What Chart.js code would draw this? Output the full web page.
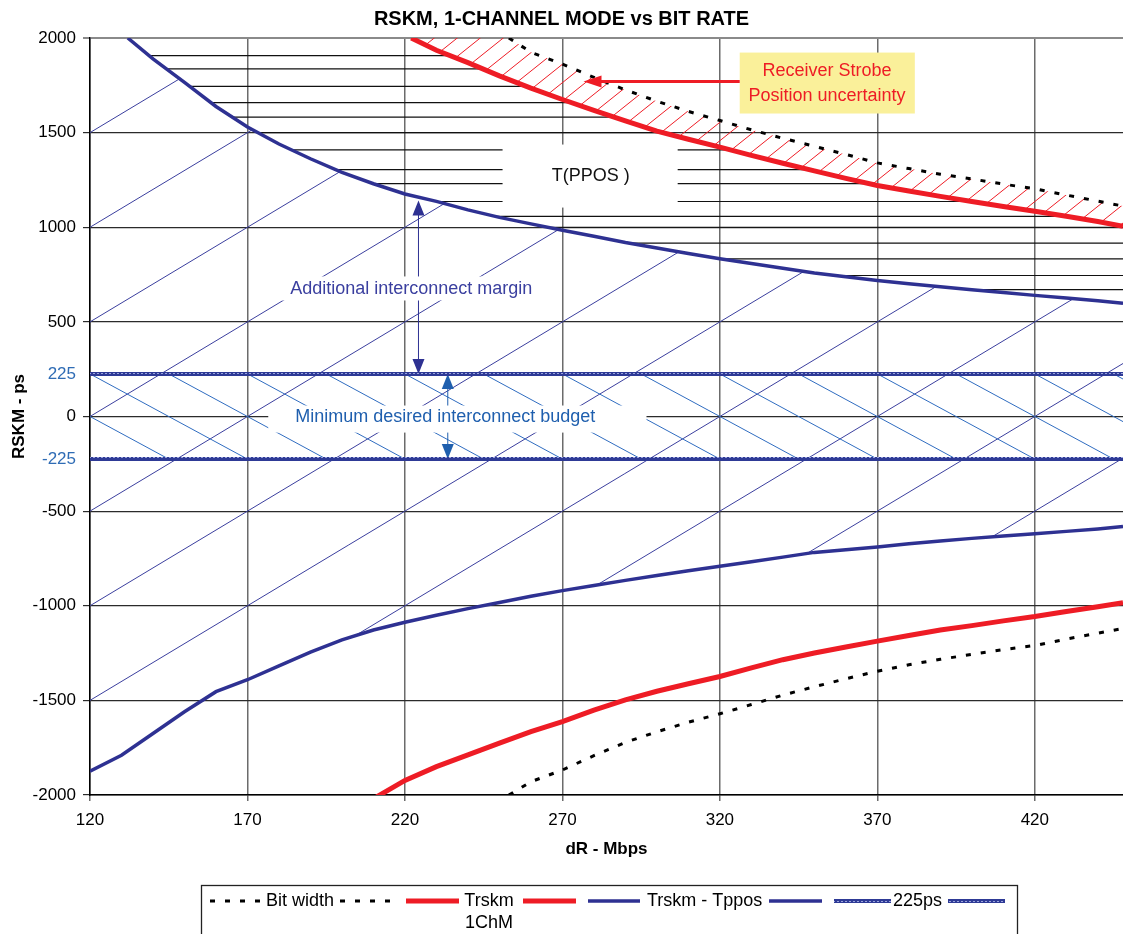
<!DOCTYPE html>
<html>
<head>
<meta charset="utf-8">
<script src="https://cdn.jsdelivr.net/npm/chart.js@4.4.1/dist/chart.umd.min.js"></script>
<style>
  html, body { margin: 0; padding: 0; background: #fff; }
  #wrap { width: 1123px; height: 934px; }
</style>
</head>
<body>
<div id="wrap"><canvas id="rskm-chart" width="1123" height="934"></canvas></div>
<script>
// values (ps vs Mbps)
const bitRates = [253, 260, 270, 280, 290, 300, 310, 320, 330, 340, 350, 360, 370, 380, 390, 400, 410, 420, 430, 440, 448];
const bitWidthHigh = [2000, 1925, 1862, 1792, 1726, 1666, 1612, 1564, 1515, 1470, 1428, 1385, 1340, 1310, 1280, 1255, 1228, 1203, 1170, 1138, 1112];
const bitWidthLow = [-2000, -1930, -1868, -1792, -1722, -1666, -1615, -1571, -1522, -1472, -1428, -1386, -1346, -1312, -1283, -1257, -1232, -1210, -1176, -1145, -1120];

const trskmHighRates = [222, 230, 240, 250, 260, 270, 280, 290, 300, 310, 320, 330, 340, 350, 360, 370, 380, 390, 400, 410, 420, 430, 440, 448];
const trskmHigh = [2000, 1935, 1870, 1800, 1735, 1675, 1618, 1562, 1508, 1465, 1423, 1380, 1338, 1298, 1258, 1221, 1192, 1163, 1136, 1110, 1085, 1058, 1030, 1005];
const trskmLowRates = [211, 220, 230, 240, 250, 260, 270, 280, 290, 300, 310, 320, 330, 340, 350, 360, 370, 380, 390, 400, 410, 420, 430, 440, 448];
const trskmLow = [-2010, -1923, -1850, -1788, -1726, -1665, -1612, -1552, -1497, -1452, -1412, -1374, -1328, -1285, -1250, -1218, -1187, -1157, -1128, -1105, -1080, -1057, -1030, -1005, -984];

const tpposHighRates = [132, 140, 150, 160, 170, 180, 190, 200, 210, 220, 230, 240, 250, 260, 270, 280, 290, 300, 310, 320, 330, 340, 350, 360, 370, 380, 390, 400, 410, 420, 430, 440, 448];
const tpposHigh = [2000, 1890, 1765, 1638, 1530, 1440, 1362, 1290, 1230, 1176, 1137, 1092, 1052, 1018, 984, 952, 919, 890, 861, 834, 808, 783, 758, 738, 719, 702, 686, 670, 655, 640, 626, 612, 599];
const tpposLowRates = [120, 130, 140, 150, 160, 170, 180, 190, 200, 210, 220, 230, 240, 250, 260, 270, 280, 290, 300, 310, 320, 330, 340, 350, 360, 370, 380, 390, 400, 410, 420, 430, 440, 448];
const tpposLow = [-1874, -1790, -1675, -1560, -1454, -1391, -1318, -1245, -1180, -1128, -1087, -1050, -1015, -983, -950, -920, -893, -866, -840, -815, -791, -767, -743, -718, -704, -690, -673, -658, -644, -631, -620, -607, -594, -581];

const budgetRates = [120, 448];
const budgetHigh = [225, 225];
const budgetLow = [-225, -225];

const xTicks = [120, 170, 220, 270, 320, 370, 420];
const yTicks = [2000, 1500, 1000, 500, 225, 0, -225, -500, -1000, -1500, -2000];

// horizontal hatch levels of the T(PPOS) zone
const hatchLevels = [1907, 1837, 1744, 1658, 1582, 1500, 1409, 1305, 1230, 1136, 1057, 1000, 916, 833, 745, 670];

// annotation boxes, in data units
const notes = {
  margin: { x0: 181, x1: 264.6, y0: 613, y1: 740, tx: 222, ty: 676, text: 'Additional interconnect margin', color: '#3a3f9f' },
  tppos: { x0: 251, x1: 306.6, y0: 1104, y1: 1437, tx: 279, ty: 1273, text: 'T(PPOS )', color: '#111' },
  budget: { x0: 176.6, x1: 296.7, y0: -85, y1: 58, tx: 232.8, ty: -5, text: 'Minimum desired interconnect budget', color: '#1f5fae' },
  strobe: { x0: 326.3, x1: 381.9, y0: 1601, y1: 1923, tx: 354, text: ['Receiver Strobe', 'Position uncertainty'], ty: [1823, 1696], color: '#ee1c25' }
};

const FONT = '"Liberation Sans", Arial, sans-serif';
const NAVY = '#2e3192';
const RED = '#ee1c25';

function series(xs, ys) {
  return xs.map((x, i) => ({ x: x, y: ys[i] }));
}

// chain-like pattern used by the 225ps lines
function makeChainPattern() {
  const c = document.createElement('canvas');
  c.width = 4; c.height = 4;
  const g = c.getContext('2d');
  g.fillStyle = '#2e3a96';
  g.fillRect(0, 0, 4, 4);
  g.fillStyle = '#9aa3dc';
  g.fillRect(1, 1, 2, 1);
  return document.getElementById('rskm-chart').getContext('2d').createPattern(c, 'repeat');
}
const chainPattern = makeChainPattern();

function arrowHead(ctx, tx, ty, dx, dy, len, half) {
  const n = Math.hypot(dx, dy);
  const ux = dx / n, uy = dy / n;
  ctx.beginPath();
  ctx.moveTo(tx, ty);
  ctx.lineTo(tx - ux * len - uy * half, ty - uy * len + ux * half);
  ctx.lineTo(tx - ux * len + uy * half, ty - uy * len - ux * half);
  ctx.closePath();
  ctx.fill();
}

const hatchPlugin = {
  id: 'hatch',
  beforeDatasetsDraw(chart) {
    const ctx = chart.ctx, area = chart.chartArea;
    const X = v => chart.scales.x.getPixelForValue(v);
    const Y = v => chart.scales.y.getPixelForValue(v);
    const trace = list => list.forEach((p, i) => i ? ctx.lineTo(X(p[0]), Y(p[1])) : ctx.moveTo(X(p[0]), Y(p[1])));
    const zip = (xs, ys) => xs.map((x, i) => [x, ys[i]]);

    const blueHi = zip(tpposHighRates, tpposHigh);
    const blueLo = zip(tpposLowRates, tpposLow);
    const redHi = zip(trskmHighRates, trskmHigh);
    const dotHi = zip(bitRates, bitWidthHigh);

    ctx.save();
    ctx.beginPath();
    ctx.rect(area.left, area.top, area.right - area.left, area.bottom - area.top);
    ctx.clip();

    // horizontal lines between Trskm - Tppos and Trskm
    ctx.save();
    ctx.beginPath();
    trace(blueHi.concat(redHi.slice().reverse()));
    ctx.closePath();
    ctx.clip();
    ctx.strokeStyle = '#111';
    ctx.lineWidth = 1.2;
    hatchLevels.forEach(v => {
      ctx.beginPath();
      ctx.moveTo(area.left, Y(v));
      ctx.lineTo(area.right, Y(v));
      ctx.stroke();
    });
    ctx.restore();

    // red strokes between Trskm and bit width
    ctx.save();
    ctx.beginPath();
    trace(redHi.concat(dotHi.slice().reverse()));
    ctx.closePath();
    ctx.clip();
    ctx.strokeStyle = RED;
    ctx.lineWidth = 1;
    for (let x0 = area.left - 1200; x0 < area.right + 50; x0 += 23) {
      ctx.beginPath();
      ctx.moveTo(x0, area.bottom);
      ctx.lineTo(x0 + 1500, area.bottom - 1200);
      ctx.stroke();
    }
    ctx.restore();

    // rising diagonals between the two Trskm - Tppos curves
    ctx.save();
    ctx.beginPath();
    trace([[120, 2000]].concat(blueHi, blueLo.slice().reverse()));
    ctx.closePath();
    ctx.clip();
    ctx.strokeStyle = '#3b3f9e';
    ctx.lineWidth = 1;
    for (let k = -8; k <= 8; k++) {
      ctx.beginPath();
      ctx.moveTo(X(120), Y(500 * k));
      ctx.lineTo(X(448), Y(500 * k + 3280));
      ctx.stroke();
    }
    ctx.restore();

    // falling diagonals inside the +/-225 budget band
    ctx.save();
    ctx.beginPath();
    ctx.rect(X(120), Y(225), X(448) - X(120), Y(-225) - Y(225));
    ctx.clip();
    ctx.strokeStyle = '#2f6cc0';
    ctx.lineWidth = 1;
    for (let k = -2; k <= 14; k++) {
      ctx.beginPath();
      ctx.moveTo(X(120 + 25 * k), Y(225));
      ctx.lineTo(X(170 + 25 * k), Y(-225));
      ctx.stroke();
    }
    ctx.restore();

    // double arrows (go under the text boxes)
    ctx.lineWidth = 1;
    ctx.strokeStyle = ctx.fillStyle = NAVY;
    let ax = X(224.3);
    ctx.beginPath(); ctx.moveTo(ax, Y(1141) + 10); ctx.lineTo(ax, Y(225) - 10); ctx.stroke();
    arrowHead(ctx, ax, Y(1141), 0, -1, 15, 6);
    arrowHead(ctx, ax, Y(225), 0, 1, 15, 6);
    ctx.strokeStyle = ctx.fillStyle = '#1f5fae';
    ax = X(233.6);
    ctx.beginPath(); ctx.moveTo(ax, Y(225) + 10); ctx.lineTo(ax, Y(-225) - 10); ctx.stroke();
    arrowHead(ctx, ax, Y(225), 0, -1, 15, 6);
    arrowHead(ctx, ax, Y(-225), 0, 1, 15, 6);

    // label boxes
    ctx.font = '18px ' + FONT;
    ctx.textAlign = 'center';
    ctx.textBaseline = 'middle';
    ['margin', 'tppos', 'budget'].forEach(key => {
      const n = notes[key];
      ctx.fillStyle = '#fff';
      ctx.fillRect(X(n.x0), Y(n.y1), X(n.x1) - X(n.x0), Y(n.y0) - Y(n.y1));
      ctx.fillStyle = n.color;
      ctx.fillText(n.text, X(n.tx), Y(n.ty));
    });
    ctx.restore();
  },
  afterDatasetsDraw(chart) {
    const ctx = chart.ctx;
    const X = v => chart.scales.x.getPixelForValue(v);
    const Y = v => chart.scales.y.getPixelForValue(v);
    const n = notes.strobe;
    ctx.save();
    ctx.fillStyle = '#faf09a';
    ctx.fillRect(X(n.x0), Y(n.y1), X(n.x1) - X(n.x0), Y(n.y0) - Y(n.y1));
    ctx.font = '18px ' + FONT;
    ctx.textAlign = 'center';
    ctx.textBaseline = 'middle';
    ctx.fillStyle = n.color;
    n.text.forEach((t, i) => ctx.fillText(t, X(n.tx), Y(n.ty[i])));
    // red arrow pointing into the hatched zone
    const ay = Y(1770);
    ctx.strokeStyle = ctx.fillStyle = RED;
    ctx.lineWidth = 3;
    ctx.beginPath(); ctx.moveTo(X(n.x0), ay); ctx.lineTo(X(276.7) + 14, ay); ctx.stroke();
    arrowHead(ctx, X(276.7), ay, -1, 0, 18, 6);
    ctx.restore();
  },
  afterDraw(chart) {
    // Excel-style legend box at the bottom
    const ctx = chart.ctx;
    ctx.save();
    ctx.strokeStyle = '#222';
    ctx.lineWidth = 1.3;
    ctx.strokeRect(201.5, 885.5, 816, 70);
    const y = 901;
    const seg = (x0, x1, style, width, dash) => {
      ctx.beginPath();
      ctx.setLineDash(dash || []);
      ctx.strokeStyle = style;
      ctx.lineWidth = width;
      ctx.moveTo(x0, y); ctx.lineTo(x1, y); ctx.stroke();
      ctx.setLineDash([]);
    };
    seg(210, 262, '#000', 3, [5, 10]);
    seg(340, 395, '#000', 3, [5, 10]);
    seg(406, 459, RED, 5);
    seg(523, 576, RED, 5);
    seg(588, 640, NAVY, 3.5);
    seg(769, 822, NAVY, 3.5);
    seg(834, 891, chainPattern, 4);
    seg(948, 1005, chainPattern, 4);
    ctx.font = '18px ' + FONT;
    ctx.fillStyle = '#000';
    ctx.textBaseline = 'middle';
    ctx.textAlign = 'left';
    ctx.fillText('Bit width', 266, y);
    ctx.fillText('Trskm - Tppos', 647, y);
    ctx.fillText('225ps', 893, y);
    ctx.textAlign = 'center';
    ctx.fillText('Trskm', 489, y);
    ctx.fillText('1ChM', 489, 923);
    ctx.restore();
  }
};

const lineBase = { showLine: true, pointRadius: 0, tension: 0, fill: false, clip: 0 };

new Chart(document.getElementById('rskm-chart'), {
  type: 'scatter',
  data: {
    datasets: [
      Object.assign({ label: 'Bit width', data: series(bitRates, bitWidthHigh), borderColor: '#000', borderWidth: 3, borderDash: [5, 10] }, lineBase),
      Object.assign({ label: 'Bit width low', data: series(bitRates, bitWidthLow), borderColor: '#000', borderWidth: 3, borderDash: [5, 10] }, lineBase),
      Object.assign({ label: 'Trskm 1ChM', data: series(trskmHighRates, trskmHigh), borderColor: RED, borderWidth: 5 }, lineBase),
      Object.assign({ label: 'Trskm 1ChM low', data: series(trskmLowRates, trskmLow), borderColor: RED, borderWidth: 5 }, lineBase),
      Object.assign({ label: 'Trskm - Tppos', data: series(tpposHighRates, tpposHigh), borderColor: NAVY, borderWidth: 3.5 }, lineBase),
      Object.assign({ label: 'Trskm - Tppos low', data: series(tpposLowRates, tpposLow), borderColor: NAVY, borderWidth: 3.5 }, lineBase),
      Object.assign({ label: '225ps', data: series(budgetRates, budgetHigh), borderColor: chainPattern, borderWidth: 4 }, lineBase),
      Object.assign({ label: '-225ps', data: series(budgetRates, budgetLow), borderColor: chainPattern, borderWidth: 4 }, lineBase)
    ]
  },
  options: {
    responsive: false,
    animation: false,
    devicePixelRatio: 1,
    layout: { padding: { left: 0, right: 0, top: 0, bottom: 69 } },
    plugins: {
      legend: { display: false },
      tooltip: { enabled: false },
      title: {
        display: true,
        text: 'RSKM, 1-CHANNEL MODE vs BIT RATE',
        color: '#000',
        font: { family: FONT, size: 20, weight: 'bold' },
        padding: { top: 7, bottom: 7 }
      }
    },
    scales: {
      x: {
        type: 'linear',
        min: 120,
        max: 448,
        afterBuildTicks: scale => { scale.ticks = xTicks.map(v => ({ value: v })); },
        afterFit: scale => { scale.height = 70; },
        ticks: { color: '#000', font: { family: FONT, size: 17 }, padding: 9, callback: v => String(v) },
        grid: { color: '#6b6b6b', lineWidth: 1.5, tickLength: 6 },
        border: { color: '#000', width: 1.5 },
        title: { display: true, text: 'dR - Mbps', color: '#000', font: { family: FONT, size: 17, weight: 'bold' }, padding: { top: 0, bottom: 5 } }
      },
      y: {
        type: 'linear',
        min: -2000,
        max: 2000,
        afterBuildTicks: scale => { scale.ticks = yTicks.map(v => ({ value: v })); },
        afterFit: scale => { scale.width = 90; },
        ticks: {
          color: c => Math.abs(c.tick.value) === 225 ? '#2f6cb5' : '#000',
          font: { family: FONT, size: 17 },
          padding: 7,
          callback: v => String(v)
        },
        grid: {
          color: c => Math.abs(c.tick.value) === 225 ? 'rgba(0,0,0,0)' : (c.tick.value === 2000 ? '#8a8a8a' : '#2b2b2b'),
          lineWidth: c => c.tick.value === 2000 ? 2 : 1.2,
          tickLength: 7
        },
        border: { color: '#000', width: 1.5 },
        title: { display: true, text: 'RSKM - ps', color: '#000', font: { family: FONT, size: 17, weight: 'bold' }, padding: { top: 9, bottom: 0 } }
      }
    }
  },
  plugins: [hatchPlugin]
});
</script>
</body>
</html>
